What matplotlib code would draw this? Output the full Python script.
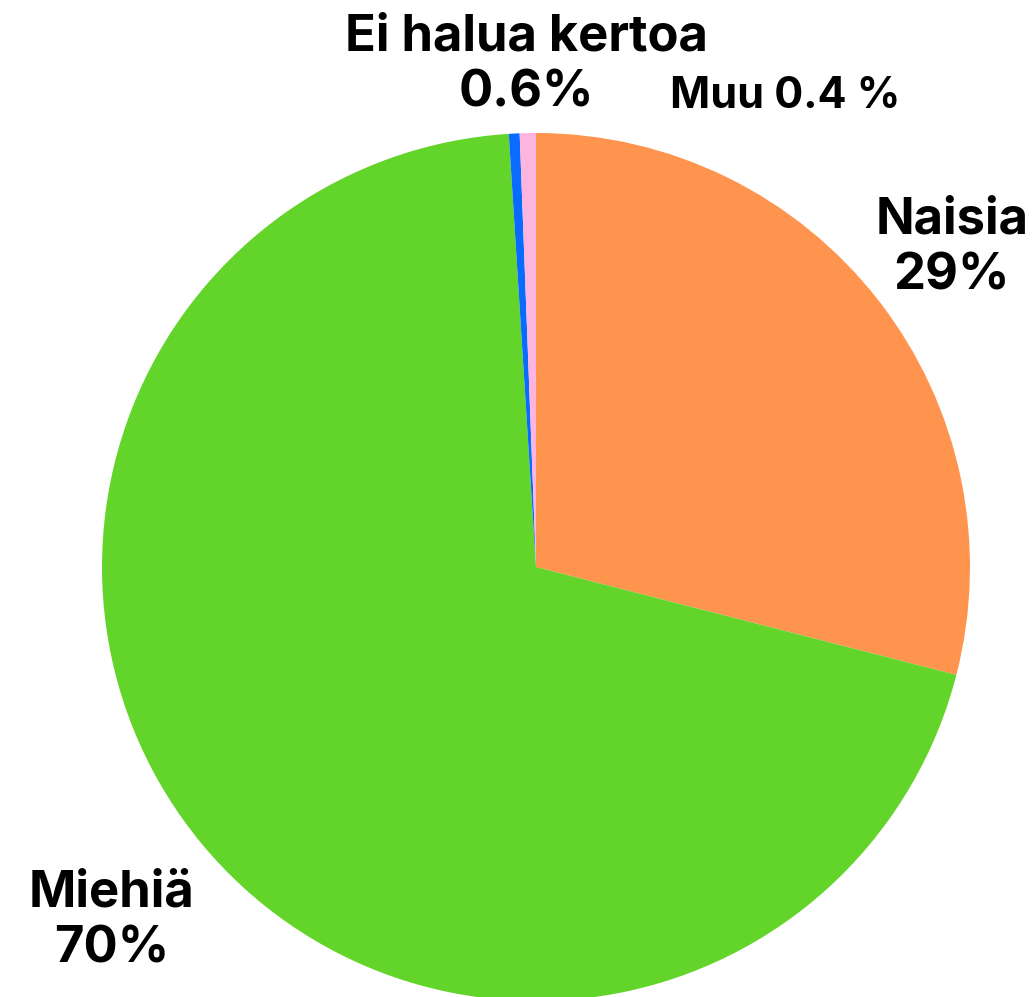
import matplotlib
matplotlib.use('Agg')
import matplotlib.pyplot as plt

# slices, clockwise from 12 o'clock
labels = ['Naisia', 'Miehiä', 'Muu', 'Ei halua kertoa']
values = [29, 70, 0.4, 0.6]
colors = ['#FF944F', '#63D42A', '#0A6CFF', '#FDB4DF']
label_texts = ['Naisia\n29%', 'Miehiä\n70%', 'Ei halua kertoa\n0.6%', 'Muu 0.4 %']

W, H = 1034, 997
fig = plt.figure(figsize=(W / 100, H / 100), dpi=100)
ax = fig.add_axes([0, 0, 1, 1])

cx, cy, r = 536, H - 567, 434
ax.pie(values, colors=colors, startangle=90, counterclock=False,
       center=(cx, cy), radius=r, frame=True,
       wedgeprops={'linewidth': 0})
ax.set_xlim(0, W)
ax.set_ylim(0, H)
ax.set_aspect('equal')
ax.axis('off')

# label positions in pixels (x, y from top), font size
pos = [(952, 248, 36.5), (112, 921, 36.5), (526, 65, 36.5), (785, 97, 31)]
for txt, (x, y, fs) in zip(label_texts, pos):
    ax.text(x, H - y, txt, ha='center', va='center', fontsize=fs,
            fontweight='bold', family=['Inter', 'DejaVu Sans'],
            linespacing=1.25, color='black')

fig.savefig('out.png', dpi=100)
